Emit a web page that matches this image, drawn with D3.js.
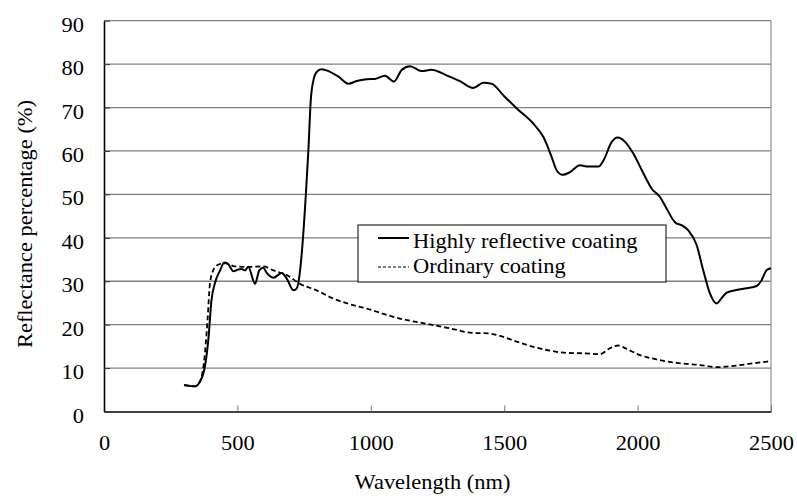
<!DOCTYPE html>
<html>
<head>
<meta charset="utf-8">
<script src="https://cdn.jsdelivr.net/npm/d3@7"></script>
<style>
  svg text { font-family: "Liberation Serif", "Times New Roman", serif !important; }
</style>
</head>
<body style="margin:0">
<svg id="chart" width="797" height="496"></svg>
<script>
// Highly reflective coating (wavelength nm, reflectance %)
const hrWave = [300, 341, 360, 378, 391, 403, 416, 435, 451, 466, 485, 503, 515, 528, 541, 566, 582, 597, 610, 635,
  666, 685, 710, 722, 735, 742, 756, 766, 775, 785, 797, 816, 841, 879, 916, 947, 985, 1016, 1053, 1087,
  1115, 1147, 1190, 1228, 1284, 1334, 1384, 1422, 1453, 1497, 1547, 1609, 1647, 1678, 1697, 1719, 1746, 1784, 1815, 1853,
  1872, 1903, 1925, 1953, 1984, 2022, 2053, 2084, 2109, 2140, 2171, 2190, 2221, 2246, 2271, 2296, 2315, 2334, 2371, 2409,
  2446, 2465, 2484, 2500];
const hrValue = [6.1, 5.8, 6.9, 10.3, 16.5, 25.7, 29.6, 32.5, 34.3, 33.9, 32.3, 32.7, 32.8, 32.5, 33.3, 29.4, 32.5, 33.1, 31.9, 30.8,
  31.9, 30.6, 27.9, 28.3, 32.5, 37.0, 49.4, 60.1, 71.7, 76.3, 78.2, 78.8, 78.4, 77.1, 75.5, 76.1, 76.5, 76.6, 77.3, 76.0,
  78.6, 79.5, 78.4, 78.7, 77.4, 76.1, 74.5, 75.7, 75.5, 72.8, 69.8, 66.3, 63.2, 58.6, 55.5, 54.5, 55.1, 56.7, 56.4, 56.4,
  57.8, 62.1, 63.1, 62.1, 59.4, 54.8, 51.3, 49.4, 46.7, 43.6, 42.7, 41.7, 38.4, 32.5, 27.2, 24.9, 26.1, 27.4, 28.0, 28.4,
  28.9, 30.3, 32.6, 33.0];

// Ordinary coating
const ocWave = [300, 341, 360, 375, 388, 397, 410, 425, 445, 460, 485, 535, 597, 635, 685, 735, 797, 860, 922, 985,
  1047, 1109, 1200, 1300, 1380, 1440, 1484, 1547, 1609, 1672, 1734, 1797, 1859, 1897, 1928, 1959, 2009, 2071, 2146, 2234,
  2296, 2359, 2434, 2500];
const ocValue = [6.1, 5.8, 7.0, 11.5, 21.0, 29.4, 32.6, 33.7, 34.1, 34.1, 33.5, 33.3, 33.4, 32.5, 31.4, 29.4, 27.9, 26.0, 24.7, 23.7,
  22.5, 21.4, 20.3, 19.1, 18.1, 18.0, 17.4, 16.1, 14.9, 14.0, 13.5, 13.4, 13.2, 14.6, 15.2, 14.4, 13.0, 12.0, 11.2, 10.7,
  10.2, 10.5, 11.1, 11.6];

const xTicks = [0, 500, 1000, 1500, 2000, 2500];
const yTicks = [0, 10, 20, 30, 40, 50, 60, 70, 80, 90];
const seriesNames = ["Highly reflective coating", "Ordinary coating"];

const width = 797, height = 496;
const margin = { top: 20.7, right: 26, bottom: 84.5, left: 104 };
const stretch = "scale(1.07,1)";
const fontSize = 21;
const fontName = "Liberation Serif";

const svg = d3.select("#chart");

const xScale = d3.scaleLinear().domain([0, 2500]).range([margin.left, width - margin.right]);
const yScale = d3.scaleLinear().domain([0, 90]).range([height - margin.bottom, margin.top]);

// gridlines
svg.append("g")
  .selectAll("line")
  .data(yTicks.filter(d => d > 0))
  .join("line")
  .attr("x1", margin.left)
  .attr("x2", width - margin.right)
  .attr("y1", d => yScale(d))
  .attr("y2", d => yScale(d))
  .attr("stroke", "#7f7f7f")
  .attr("stroke-width", 1.3);

// right border of plot area
svg.append("line")
  .attr("x1", xScale(2500)).attr("x2", xScale(2500))
  .attr("y1", yScale(90)).attr("y2", yScale(0))
  .attr("stroke", "#9a9a9a")
  .attr("stroke-width", 1.3);

// axes
const xAxis = svg.append("g")
  .attr("transform", `translate(0,${yScale(0)})`)
  .call(d3.axisBottom(xScale).tickValues(xTicks).tickSizeInner(-6).tickSizeOuter(0).tickFormat(d3.format("d")))
  .attr("font-family", fontName)
  .attr("font-size", fontSize);
xAxis.select(".domain").attr("stroke", "#000").attr("stroke-width", 1.6);
xAxis.selectAll(".tick line").attr("stroke", "#777").attr("stroke-width", 1);
xAxis.selectAll(".tick text")
  .attr("y", null).attr("dy", null)
  .attr("transform", `translate(0,38) ${stretch}`);

const yAxis = svg.append("g")
  .attr("transform", `translate(${margin.left},0)`)
  .call(d3.axisLeft(yScale).tickValues(yTicks).tickSizeInner(-6).tickSizeOuter(0))
  .attr("font-family", fontName)
  .attr("font-size", fontSize);
yAxis.select(".domain").attr("stroke", "#000").attr("stroke-width", 1.6);
yAxis.selectAll(".tick line").attr("stroke", "#333").attr("stroke-width", 1);
yAxis.selectAll(".tick text")
  .attr("x", null).attr("dy", null)
  .attr("transform", `translate(-20,10.5) ${stretch}`);

// lines
const line = d3.line()
  .x(d => xScale(d[0]))
  .y(d => yScale(d[1]))
  .curve(d3.curveMonotoneX);

const hrData = hrWave.map((w, i) => [w, hrValue[i]]);
const ocData = ocWave.map((w, i) => [w, ocValue[i]]);

svg.append("path")
  .datum(ocData)
  .attr("fill", "none")
  .attr("stroke", "#000")
  .attr("stroke-width", 1.8)
  .attr("stroke-dasharray", "5,3")
  .attr("d", line);

svg.append("path")
  .datum(hrData)
  .attr("fill", "none")
  .attr("stroke", "#000")
  .attr("stroke-width", 2)
  .attr("d", line);

// axis titles
svg.append("text")
  .attr("transform", `translate(${(margin.left + width - margin.right) / 2 - 5},489) ${stretch}`)
  .attr("text-anchor", "middle")
  .attr("font-family", fontName)
  .attr("font-size", fontSize)
  .text("Wavelength (nm)");

svg.append("text")
  .attr("transform", `translate(32,224) rotate(-90) ${stretch}`)
  .attr("text-anchor", "middle")
  .attr("font-family", fontName)
  .attr("font-size", fontSize)
  .text("Reflectance percentage (%)");

// legend
const legend = svg.append("g").attr("transform", "translate(358,225)");
legend.append("rect")
  .attr("width", 308).attr("height", 57)
  .attr("fill", "#fff")
  .attr("stroke", "#000")
  .attr("stroke-width", 1);

seriesNames.forEach((name, i) => {
  const ly = i === 0 ? 13 : 42;
  legend.append("line")
    .attr("x1", 20).attr("x2", 51)
    .attr("y1", ly).attr("y2", ly)
    .attr("stroke", "#000")
    .attr("stroke-width", i === 0 ? 2 : 1.2)
    .attr("stroke-dasharray", i === 0 ? null : "3,2");
  legend.append("text")
    .attr("transform", `translate(55,${i === 0 ? 22.5 : 48}) ${stretch}`)
    .attr("font-family", fontName)
    .attr("font-size", fontSize)
    .text(name);
});
</script>
</body>
</html>
